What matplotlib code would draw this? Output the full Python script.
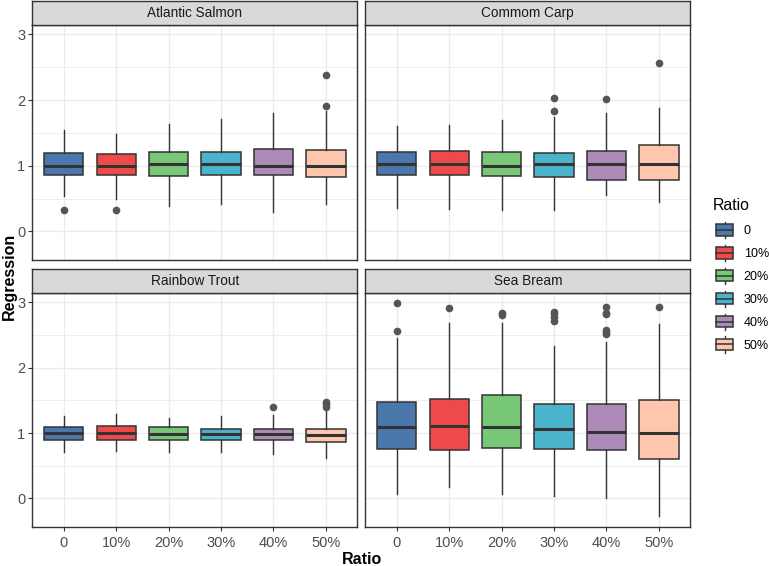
import matplotlib.pyplot as plt
from matplotlib.legend_handler import HandlerBase
from matplotlib.patches import Rectangle, Patch
from matplotlib.lines import Line2D

plt.rcParams['font.family'] = ['Liberation Sans', 'DejaVu Sans']

# Data (box statistics)
ratios = ['0', '10%', '20%', '30%', '40%', '50%']
species = ['Atlantic Salmon', 'Commom Carp', 'Rainbow Trout', 'Sea Bream']
colors = ['#4A78AC', '#EE4A4A', '#78C878', '#4AB4CC', '#AE8AB8', '#FEC6AD']

salmon_lo = [0.54, 0.49, 0.39, 0.42, 0.30, 0.425]
salmon_q1 = [0.86, 0.86, 0.845, 0.855, 0.86, 0.83]
salmon_med = [1.003, 0.99, 1.02, 1.02, 1.003, 0.99]
salmon_q3 = [1.19, 1.18, 1.21, 1.21, 1.255, 1.24]
salmon_hi = [1.55, 1.49, 1.64, 1.71, 1.81, 1.83]
salmon_out = [[0.33], [0.32], [], [], [], [1.915, 2.376]]

carp_lo = [0.36, 0.34, 0.33, 0.33, 0.56, 0.45]
carp_q1 = [0.86, 0.86, 0.845, 0.83, 0.78, 0.79]
carp_med = [1.02, 1.034, 1.003, 1.034, 1.034, 1.02]
carp_q3 = [1.21, 1.224, 1.21, 1.19, 1.224, 1.316]
carp_hi = [1.61, 1.62, 1.69, 1.736, 1.81, 1.885]
carp_out = [[], [], [], [1.84, 2.04], [2.01], [2.56]]

trout_lo = [0.71, 0.724, 0.71, 0.71, 0.68, 0.617]
trout_q1 = [0.90, 0.888, 0.90, 0.90, 0.888, 0.857]
trout_med = [1.005, 1.005, 0.99, 0.99, 0.99, 0.974]
trout_q3 = [1.087, 1.10, 1.087, 1.057, 1.066, 1.057]
trout_hi = [1.265, 1.296, 1.23, 1.265, 1.28, 1.378]
trout_out = [[], [], [], [], [1.394], [1.40, 1.444, 1.48]]

bream_lo = [0.066, 0.178, 0.066, 0.035, 0.005, -0.27]
bream_q1 = [0.75, 0.735, 0.766, 0.75, 0.735, 0.597]
bream_med = [1.096, 1.112, 1.096, 1.066, 1.02, 1.005]
bream_q3 = [1.47, 1.516, 1.577, 1.44, 1.44, 1.50]
bream_hi = [2.46, 2.69, 2.69, 2.33, 2.40, 2.665]
bream_out = [[2.57, 2.986], [2.91], [2.80, 2.84], [2.71, 2.78, 2.817, 2.853],
             [2.516, 2.547, 2.577, 2.817, 2.84, 2.934], [2.925]]

panels = [
    (salmon_lo, salmon_q1, salmon_med, salmon_q3, salmon_hi, salmon_out),
    (carp_lo, carp_q1, carp_med, carp_q3, carp_hi, carp_out),
    (trout_lo, trout_q1, trout_med, trout_q3, trout_hi, trout_out),
    (bream_lo, bream_q1, bream_med, bream_q3, bream_hi, bream_out),
]

W, H = 769, 566
fig = plt.figure(figsize=(W / 100, H / 100), dpi=100)

# panel rectangles in pixels: (left, top, right, bottom)
cols = [(32.3, 357.3), (365.3, 690.3)]
rows = [(25.3, 260.0), (293.3, 526.7)]
strip_h = 24.5

def frac(l, t, r, b):
    return [l / W, 1 - b / H, (r - l) / W, (b - t) / H]

edge = '#333333'
for i, (lo, q1, med, q3, hi, out) in enumerate(panels):
    r, c = divmod(i, 2)
    l, rr = cols[c]
    t, b = rows[r]
    ax = fig.add_axes(frac(l, t, rr, b))
    stats = [dict(whislo=lo[k], q1=q1[k], med=med[k], q3=q3[k], whishi=hi[k], fliers=out[k])
             for k in range(len(ratios))]
    bp = ax.bxp(stats, positions=range(1, 7), widths=0.75, patch_artist=True, showcaps=False,
                boxprops=dict(edgecolor=edge, linewidth=1.1),
                medianprops=dict(color=edge, linewidth=2.2),
                whiskerprops=dict(color=edge, linewidth=1.0),
                flierprops=dict(marker='o', markerfacecolor='#555555', markeredgecolor='#555555',
                                markersize=4.5))
    for patch, col in zip(bp['boxes'], colors):
        patch.set_facecolor(col)
    ax.set_xlim(0.4, 6.6)
    ax.set_ylim(-0.435, 3.14)
    ax.set_yticks([0, 1, 2, 3])
    ax.set_yticks([0.5, 1.5, 2.5], minor=True)
    ax.set_xticks(range(1, 7))
    ax.set_xticklabels(ratios)
    ax.grid(True, which='major', color='#EBEBEB', linewidth=1.0)
    ax.grid(True, which='minor', axis='y', color='#EBEBEB', linewidth=0.6)
    ax.set_axisbelow(True)
    for s in ax.spines.values():
        s.set_color(edge)
        s.set_linewidth(1.0)
    ax.tick_params(which='minor', length=0)
    ax.tick_params(which='major', length=3, color=edge, labelsize=10.5, labelcolor='#4D4D4D', pad=2)
    if r == 0:
        ax.tick_params(axis='x', bottom=False, labelbottom=False)
    else:
        ax.tick_params(axis='x', pad=4)
    if c == 1:
        ax.tick_params(axis='y', left=False, labelleft=False)

    # strip
    sax = fig.add_axes(frac(l, t - strip_h, rr, t))
    sax.set_facecolor('#D9D9D9')
    sax.set_xticks([])
    sax.set_yticks([])
    for s in sax.spines.values():
        s.set_color(edge)
        s.set_linewidth(1.0)
    sax.text(0.5, 0.5, species[i], ha='center', va='center', fontsize=9.8, color='#1A1A1A',
             transform=sax.transAxes)

fig.text(362 / W, 1 - 559 / H, 'Ratio', ha='center', va='center', fontsize=11.5, fontweight='bold')
fig.text(9 / W, 1 - 276 / H, 'Regression', ha='center', va='center', rotation=90,
         fontsize=11.5, fontweight='bold')


class BoxKey(HandlerBase):
    def create_artists(self, legend, orig_handle, xdescent, ydescent, width, height,
                       fontsize, trans):
        x0, y0 = -xdescent, -ydescent
        cx = x0 + width / 2
        ext = 0.22 * height
        whisk = Line2D([cx, cx], [y0 - ext, y0 + height + ext], color=edge, linewidth=1.0,
                       transform=trans)
        box = Rectangle((x0, y0), width, height, facecolor=orig_handle.get_facecolor(),
                        edgecolor=edge, linewidth=1.1, transform=trans)
        mid = Line2D([x0, x0 + width], [y0 + height / 2] * 2, color=edge, linewidth=1.1,
                     transform=trans)
        return [whisk, box, mid]


# legend title drawn separately so the gap to the keys can match
fig.text(713 / W, 1 - 205.5 / H, 'Ratio', ha='left', va='center', fontsize=11.4)
handles = [Patch(facecolor=col) for col in colors]
leg = fig.legend(handles, ratios, handler_map={Patch: BoxKey()}, loc='upper left',
                 bbox_to_anchor=(716 / W, 1 - 224.5 / H), frameon=False,
                 fontsize=9, handlelength=1.36, handleheight=1.0, borderpad=0,
                 labelspacing=0.8, handletextpad=0.85, borderaxespad=0)

fig.savefig('out.png', dpi=100)
